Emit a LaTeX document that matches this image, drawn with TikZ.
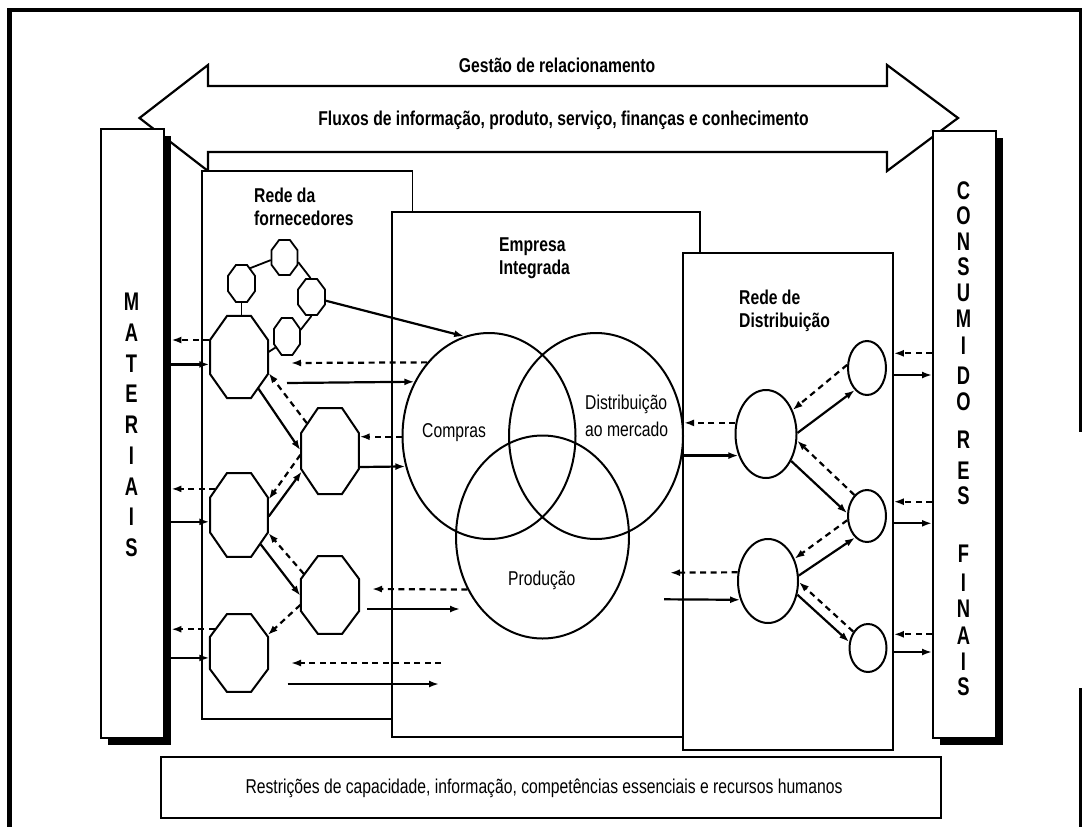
\documentclass[tikz,border=0pt]{standalone}
\usepackage{fontspec}
\setmainfont{Liberation Sans}
\newfontfamily\cnd[FakeStretch=0.785]{Liberation Sans}
\newfontfamily\colf[FakeStretch=0.72]{Liberation Sans}
\usetikzlibrary{arrows.meta,shapes.geometric}
\begin{document}
\begin{tikzpicture}[x=1pt,y=-1pt,
  >={Latex[length=10pt,width=7pt]},
  boxn/.style={rectangle, draw, line width=1.8pt, fill=white, inner sep=0pt, anchor=north west},
  shad/.style={rectangle, fill=black, inner sep=0pt, anchor=north west},
  oct/.style={regular polygon, regular polygon sides=8, draw, line width=2pt, inner sep=0pt, transform shape},
  ell/.style={ellipse, draw, line width=2pt, inner sep=0pt},
  sarr/.style={->, line width=2.2pt},
  darr/.style={->, line width=2.2pt, dash pattern=on 6pt off 4.5pt},
  link/.style={line width=1.8pt},
  btxt/.style={font=\cnd\bfseries\fontsize{20}{23}\selectfont, inner sep=0pt},
  rtxt/.style={font=\cnd\fontsize{20}{23}\selectfont, inner sep=0pt},
  letr/.style={font=\colf\bfseries\fontsize{25.5}{25.5}\selectfont, inner sep=0pt}]
\useasboundingbox (0,0) rectangle (1084,827);
\fill[white] (0,0) rectangle (1084,827);

% outer frame
\draw[line width=4pt] (8,10) -- (1082,10);
\draw[line width=5pt] (9.5,8) -- (9.5,827);
\draw[line width=3pt] (1080.5,8) -- (1080.5,432);
\draw[line width=3pt] (1080.5,688) -- (1080.5,827);

% big double arrow
\draw[line width=2.2pt, line join=miter] (139.5,118) -- (208,65) -- (208,86) -- (887,86) -- (887,65) -- (958,118) -- (887,171) -- (887,152) -- (208,152) -- (208,171) -- cycle;
\node[btxt, anchor=base] (gestao) at (557,72) {Gestão de relacionamento};
\node[btxt, anchor=base] (fluxos) at (563.5,125) {Fluxos de informação, produto, serviço, finanças e conhecimento};

% side columns with shadows
\node[shad, minimum width=63pt, minimum height=609pt] (matsh) at (108,136) {};
\node[boxn, minimum width=63pt, minimum height=609pt] (mat) at (100,128) {};
\node[shad, minimum width=63pt, minimum height=607pt] (conssh) at (940,138) {};
\node[boxn, minimum width=63pt, minimum height=607pt] (cons) at (932,130) {};

\foreach \l/\yy in {M/302,A/333,T/364,E/394,R/425,I/456,A/487,I/517,S/548}
  \node[letr] at (131.5,\yy) {\l};
\foreach \l/\yy in {C/191,O/216,N/242,S/267,U/292.5,M/319,I/346,D/376,O/402,R/440,E/471,S/496,F/554,I/583,N/609,A/636,I/662,S/687}
  \node[letr] at (963.5,\yy) {\l};

% main boxes
\node[boxn, minimum width=210.5pt, minimum height=548pt] (rede) at (201,170) {};
\node[boxn, minimum width=308pt, minimum height=525pt] (emp) at (391,211) {};
\node[boxn, minimum width=210pt, minimum height=497pt] (dist) at (682,252) {};
\node[boxn, minimum width=780pt, minimum height=61pt] (restr) at (160,756) {};
\node[rtxt, anchor=base] at (544,793) {Restrições de capacidade, informação, competências essenciais e recursos humanos};

% titles
\node[btxt, anchor=north west, align=left] (redet) at (254,188) {Rede da\\fornecedores};
\node[btxt, anchor=north west, align=left] (empt) at (499,238) {Empresa\\Integrada};
\node[btxt, anchor=north west, align=left] (distt) at (739,290) {Rede de\\Distribuição};

% Venn
\node[ell, minimum width=173pt, minimum height=206pt] (compras) at (489,436) {};
\node[ell, minimum width=174pt, minimum height=206pt] (distc) at (596,436) {};
\node[ell, minimum width=173pt, minimum height=203pt] (prod) at (542.5,537) {};
\node[rtxt, anchor=base west] at (422,437) {Compras};
\node[rtxt, anchor=north west, align=left] at (585,395) {Distribuição\\[3.7pt]ao mercado};
\node[rtxt, anchor=base west] at (508,585) {Produção};

% supplier octagons (regular octagons stretched vertically)
\node[oct, line width=1.8pt, minimum size=37.9pt, xscale=0.743] (sA) at (284.5,257.5) {};
\node[oct, line width=1.8pt, minimum size=40pt, xscale=0.73] (sB) at (241.5,283.5) {};
\node[oct, line width=1.8pt, minimum size=39pt, xscale=0.75] (sC) at (311.5,297) {};
\node[oct, line width=1.8pt, minimum size=40pt, xscale=0.703] (sD) at (287,336.5) {};
\node[oct, minimum size=88.8pt, xscale=0.707] (o1) at (239,357) {};
\node[oct, minimum size=93.1pt, xscale=0.674] (o2) at (330,451) {};
\node[oct, minimum size=90.9pt, xscale=0.69] (o3) at (239,515) {};
\node[oct, minimum size=84.4pt, xscale=0.744] (o4) at (330,595) {};
\node[oct, minimum size=84.4pt, xscale=0.744] (o5) at (239,653) {};

% distribution ellipses
\node[ell, minimum width=38pt, minimum height=54pt] (E1) at (867,368) {};
\node[ell, minimum width=61pt, minimum height=88pt] (E2) at (766,434) {};
\node[ell, minimum width=38pt, minimum height=52pt] (E3) at (867,516) {};
\node[ell, minimum width=60pt, minimum height=84pt] (E4) at (768,581) {};
\node[ell, minimum width=37pt, minimum height=48pt] (E5) at (868,648) {};

% supplier links
\draw[link] (sB.52) -- (sA.188);
\draw[link] (sA.-14) -- (sC.94);
\draw[link] (sC.south) -- (sD.19);
\draw[link] (sB.south) -- (sB.south |- o1.north);
\draw[link] (sD.214) -- (o1.7);
\draw[sarr] (sC.-11) -- (compras.104);

% supplier arrows
\coordinate (f0) at (291,363);
\coordinate (f1) at (287,383);
\coordinate (f2) at (372,589);
\coordinate (f3) at (367,609);
\coordinate (f4) at (460,609);
\coordinate (f5) at (441,663);
\coordinate (f6) at (291,663);
\coordinate (f7) at (287.5,684);
\coordinate (f8) at (439,684);
\draw[sarr] (matsh.east |- o1.190) -- (o1.190);
\draw[darr] (o1.158) -- (matsh.east |- o1.158);
\draw[darr] (compras.130) -- (f0);
\draw[sarr] (f1) -- (compras.144);
\draw[darr] (o2.18 -| compras.west) -- (o2.18);
\draw[sarr] (o2.-20) -- (compras.200);
\draw[sarr] (o1.-49) -- (o2.179);
\draw[darr] (o2.141) -- (o1.-21);
\draw[sarr] (o3.-2) -- (o2.206);
\draw[darr] (o2.185) -- (o3.20);
\draw[darr] (o3.143) -- (matsh.east |- o3.143);
\draw[sarr] (matsh.east |- o3.189) -- (o3.189);
\draw[darr] (o4.149) -- (o3.-23);
\draw[sarr] (o3.-43) -- (o4.181);
\draw[darr] (o4.194) -- (o5.25);
\draw[darr] (o5.144) -- (matsh.east |- o5.144);
\draw[sarr] (matsh.east |- o5.187) -- (o5.187);
\draw[darr] (prod.215) -- (f2);
\draw[sarr] (f3) -- (f4);
\draw[darr] (f5) -- (f6);
\draw[sarr] (f7) -- (f8);

% distribution arrows
\coordinate (f9) at (670,572.7);
\coordinate (f10) at (664,599.3);
\draw[darr] (E2.160) -- (E2.160 -| distc.east);
\draw[sarr] (E2.218 -| distc.east) -- (E2.218);
\draw[sarr] (E2.2) -- (E1.241);
\draw[darr] (E1.171) -- (E2.42);
\draw[sarr] (E2.-47) -- (E3.172);
\draw[darr] (E3.121) -- (E2.-12);
\draw[sarr] (E4.10) -- (E3.241);
\draw[darr] (E3.192) -- (E4.40);
\draw[sarr] (E4.-25) -- (E5.162);
\draw[darr] (E5.132) -- (E4.-2);
\draw[darr] (E4.164) -- (f9);
\draw[sarr] (f10) -- (E4.214);
\draw[darr] (cons.west |- 0,353.3) -- (dist.east |- 0,353.3);
\draw[sarr] (dist.east |- 0,375) -- (cons.west |- 0,375);
\draw[darr] (cons.west |- 0,501.7) -- (dist.east |- 0,501.7);
\draw[sarr] (dist.east |- 0,523.3) -- (cons.west |- 0,523.3);
\draw[darr] (cons.west |- 0,634.3) -- (dist.east |- 0,634.3);
\draw[sarr] (dist.east |- 0,652) -- (cons.west |- 0,652);
\end{tikzpicture}
\end{document}
